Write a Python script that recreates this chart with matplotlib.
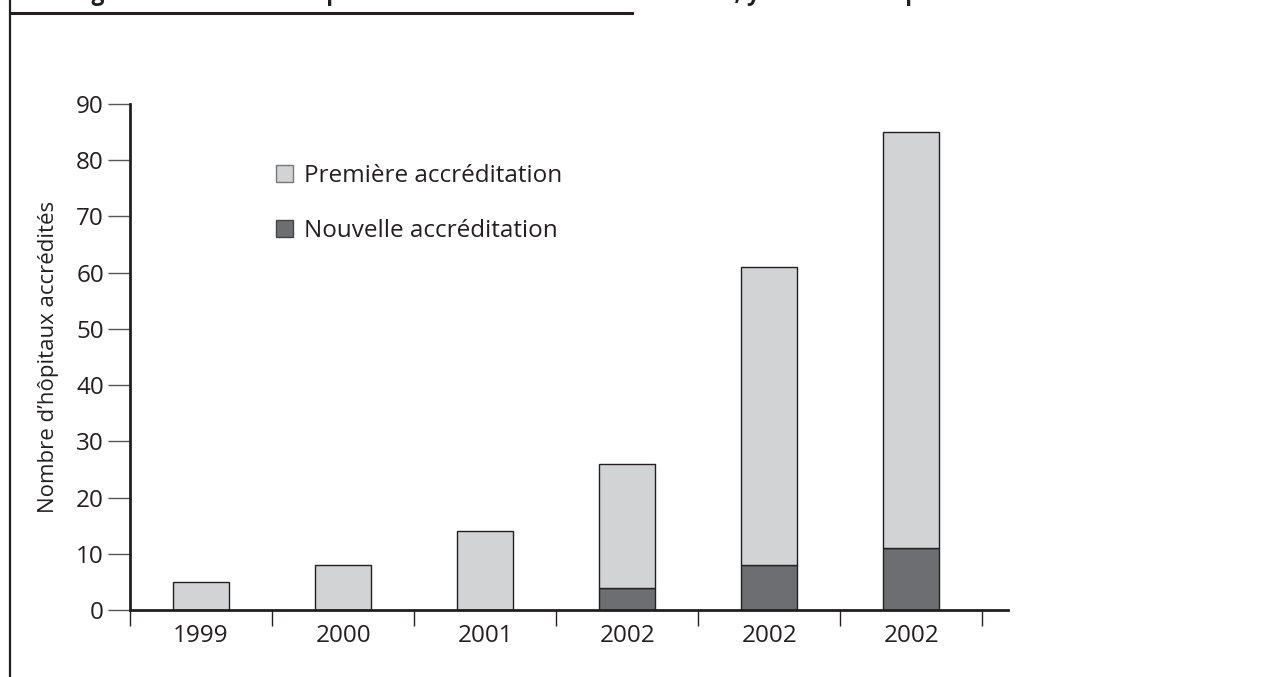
import numpy as np
import matplotlib
matplotlib.use("Agg")
import matplotlib.pyplot as plt
from matplotlib.lines import Line2D
from matplotlib.patches import Patch

plt.rcParams.update({"font.family": "Open Sans"})

INK = "#231f20"
LIGHT, DARK = "#d1d3d4", "#6d6e71"

YEARS = ["1999", "2000", "2001", "2002", "2002", "2002"]
NOUVELLE = [0, 0, 0, 4, 8, 11]          # dark segment
PREMIERE = [5, 8, 14, 22, 53, 74]       # light segment stacked on top
LABELS = ["Première accréditation", "Nouvelle accréditation"]
TITLE = ("Figure 2 : Nombre d’hôpitaux accrédités entre 1999 et 2002, "
         "y inclus les hôpitaux réaccrédités")

fig = plt.figure(figsize=(12.8, 6.77), dpi=100)
ax = fig.add_axes([130 / 1280, 67 / 677, 878 / 1280, 506 / 677])

x = np.arange(len(YEARS))
w = 0.395
ax.bar(x, NOUVELLE, w, color=DARK, edgecolor=INK, lw=1.0)
ax.bar(x, PREMIERE, w, bottom=NOUVELLE, color=LIGHT, edgecolor=INK, lw=1.0)

ax.set_xlim(-0.5, 5.68)
ax.set_ylim(0, 90)
ax.spines[["top", "right"]].set_visible(False)
for s in ("left", "bottom"):
    ax.spines[s].set_linewidth(2.0)
    ax.spines[s].set_color(INK)

ax.set_yticks(np.arange(0, 91, 10))
ax.tick_params(axis="y", length=15.8, width=1.0, color="#555555",
               labelsize=17.5, labelcolor=INK, pad=3)
ax.set_xticks(np.arange(-0.5, 6, 1.0))
ax.set_xticklabels([])
ax.tick_params(axis="x", which="major", length=11.5, width=1.0, color=INK)
ax.set_xticks(x, minor=True)
ax.set_xticklabels(YEARS, minor=True)
ax.tick_params(axis="x", which="minor", length=0, labelsize=17.5,
               labelcolor=INK, pad=10)

ax.set_ylabel("Nombre d’hôpitaux accrédités", fontsize=16, color=INK, labelpad=12)

handles = [Patch(facecolor=LIGHT, edgecolor="#777777", lw=1.0),
           Patch(facecolor=DARK, edgecolor="#444444", lw=1.0)]
ax.legend(handles, LABELS, loc="upper left", bbox_to_anchor=(0.155, 0.90),
          frameon=False, fontsize=17.5, handlelength=0.7, handleheight=0.7,
          handletextpad=0.45, labelspacing=1.25, borderaxespad=0, labelcolor=INK)

# page frame and cut-off heading
fig.add_artist(Line2D([10 / 1280, 10 / 1280], [0, 1], color=INK, lw=1.6))
fig.add_artist(Line2D([10 / 1280, 632 / 1280], [1 - 13 / 677, 1 - 13 / 677],
                      color=INK, lw=2.2))
fig.text(72 / 1280, 1.0, TITLE, fontsize=16.4, fontweight="bold", color=INK,
         va="baseline", ha="left")

fig.savefig("out.png", dpi=100)
